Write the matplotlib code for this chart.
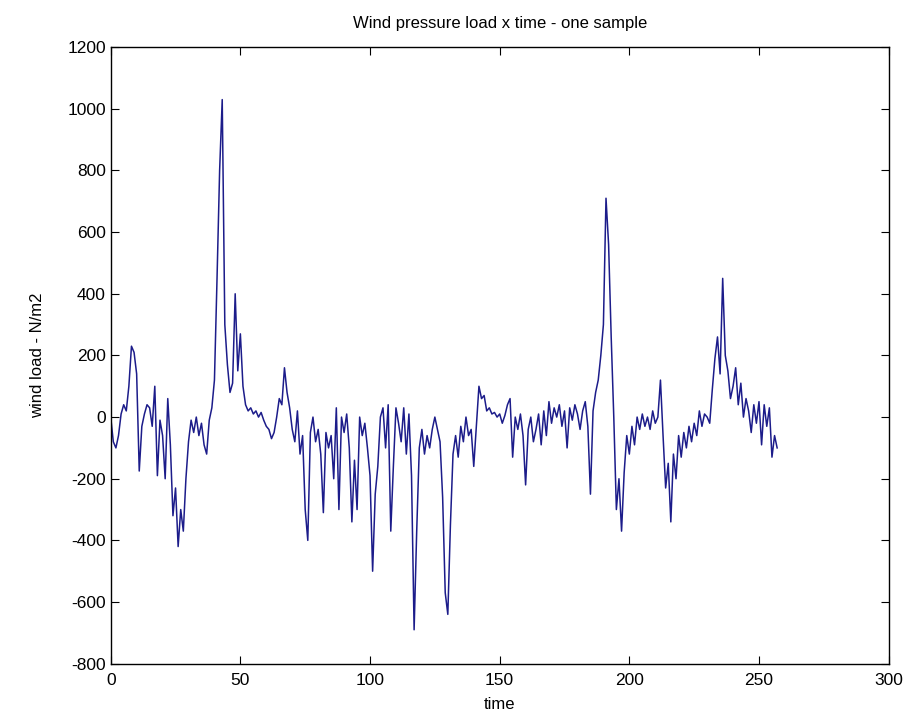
import numpy as np
import matplotlib.pyplot as plt

plt.rcParams['font.family'] = ['Liberation Sans', 'DejaVu Sans']
plt.rcParams['axes.unicode_minus'] = False

# one sample of wind pressure load (1 value per time unit)
time = np.arange(0, 258)
load = [
    0, -80, -100, -60, 10, 40, 20, 100, 230, 210,
    140, -175, -30, 10, 40, 30, -30, 100, -190, -10,
    -60, -200, 60, -90, -320, -230, -420, -300, -370, -200,
    -80, -10, -50, 0, -60, -20, -90, -120, -10, 30,
    120, 450, 800, 1030, 300, 170, 80, 110, 400, 150,
    270, 100, 40, 20, 30, 10, 20, 0, 15, -10,
    -30, -40, -70, -50, 0, 60, 40, 160, 80, 30,
    -40, -80, 20, -120, -60, -300, -400, -50, 0, -80,
    -40, -120, -310, -50, -100, -60, -200, 30, -300, 0,
    -50, 10, -100, -340, -140, -300, 0, -60, -20, -100,
    -190, -500, -250, -160, 0, 30, -100, 40, -370, -160,
    30, -20, -80, 30, -120, 10, -190, -690, -370, -100,
    -40, -120, -60, -100, -40, 0, -40, -80, -260, -570,
    -640, -350, -120, -60, -130, -30, -80, 0, -60, -40,
    -160, -30, 100, 60, 70, 20, 30, 10, 15, 0,
    10, -20, 5, 40, 60, -130, 0, -40, 10, -60,
    -220, -40, 0, -80, -40, 10, -90, 20, -60, 50,
    -20, 30, 0, 40, -30, 20, -100, 30, -10, 40,
    10, -40, 20, 50, -30, -250, 20, 80, 120, 200,
    300, 710, 560, 260, 0, -300, -200, -370, -180, -60,
    -120, -30, -90, 0, -40, 10, -30, 0, -40, 20,
    -20, 0, 120, -60, -230, -150, -340, -120, -200, -60,
    -130, -50, -100, -30, -80, -20, -60, 20, -30, 10,
    0, -20, 90, 190, 260, 140, 450, 200, 150, 60,
    100, 160, 40, 110, 0, 60, 20, -50, 40, -20,
    50, -90, 40, -30, 30, -130, -60, -100,
]

fig = plt.figure(figsize=(9.12, 7.27), dpi=100)
ax = fig.add_axes([0.1214, 0.0871, 0.853, 0.848])
ax.plot(time, load, color='#1c1c8a', linewidth=1.1)

ax.set_xlim(0, 300)
ax.set_ylim(-800, 1200)
ax.set_xticks(np.arange(0, 301, 50))
ax.set_yticks(np.arange(-800, 1201, 200))
ax.tick_params(direction='in', top=True, right=True, labelsize=12.5, length=6)
ax.tick_params(axis='x', pad=7)
for s in ax.spines.values():
    s.set_linewidth(1.0)

ax.set_title('Wind pressure load x time - one sample', fontsize=12, pad=14)
ax.set_xlabel('time', fontsize=12, labelpad=6)
ax.set_ylabel('wind load - N/m2', fontsize=12, labelpad=16)

fig.savefig('out.png', dpi=100)
